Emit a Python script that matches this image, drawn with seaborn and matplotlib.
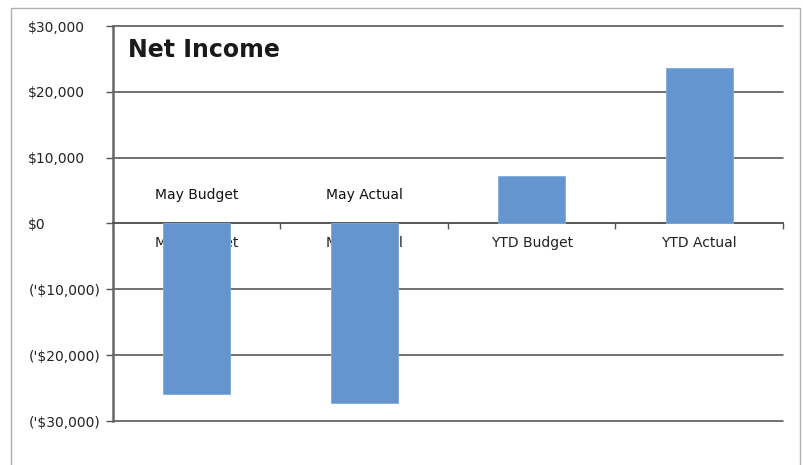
import numpy as np
import pandas as pd
import matplotlib.pyplot as plt
import seaborn as sns

categories = ["May Budget", "May Actual", "YTD Budget", "YTD Actual"]
net_income = [-25900, -27300, 7150, 23600]
annotated = ["May Budget", "May Actual"]
y_ticks = [30000, 20000, 10000, 0, -10000, -20000, -30000]
y_labels = ["$30,000", "$20,000", "$10,000", "$0", "('$10,000)", "('$20,000)", "('$30,000)"]

df = pd.DataFrame({"category": categories, "value": net_income})

sns.set_style("white")
plt.rcParams["font.family"] = ["DejaVu Sans"]

fig = plt.figure(figsize=(8.04, 4.65), dpi=100)
ax = fig.add_axes([113 / 804, 1 - 421 / 465, 670 / 804, 395 / 465])

sns.barplot(data=df, x="category", y="value", color="#6495CF", width=0.4,
            saturation=1, ax=ax, zorder=3, linewidth=0.6, edgecolor="#7FAAE0")

ax.set_ylim(-30000, 30000)
ax.set_xlim(-0.5, 3.5)
ax.set_yticks(y_ticks)
ax.set_yticklabels(y_labels, fontsize=10, color="#222222", ha="left")
ax.tick_params(axis="y", left=True, length=5, width=1, color="#555555", pad=56)
ax.set_xlabel("")
ax.set_ylabel("")

# gridlines drawn behind the bars
for v in y_ticks:
    if v != 0:
        ax.axhline(v, color="#4a4a4a", lw=1.1, zorder=1, clip_on=False)

# category axis sits on zero, labels end up under the bars
ax.spines["bottom"].set_position(("data", 0))
ax.spines["bottom"].set_color("#4a4a4a")
ax.spines["bottom"].set_linewidth(1.3)
ax.spines["left"].set_color("#666666")
ax.spines["left"].set_linewidth(1.8)
ax.spines["top"].set_visible(False)
ax.spines["right"].set_visible(False)
ax.set_xticks([0.5, 1.5, 2.5, 3.5], minor=True)
ax.tick_params(axis="x", which="major", bottom=False, length=0, pad=9, labelsize=10, labelcolor="#222222")
ax.tick_params(axis="x", which="minor", bottom=True, length=4, width=1, color="#555555", direction="out")
ax.xaxis.set_zorder(1.5)

for name in annotated:
    i = categories.index(name)
    ax.text(i, 4300, name, ha="center", va="center", fontsize=10, color="#111111", zorder=4)

ax.text(0.022, 0.97, "Net Income", transform=ax.transAxes, fontsize=17,
        fontweight="bold", color="#1a1a1a", ha="left", va="top")

# outer chart border
fig.patches.append(plt.Rectangle((11 / 804, -0.1), 789 / 804, 1.1 - 8 / 465,
                                 transform=fig.transFigure, fill=False,
                                 edgecolor="#b0b0b0", lw=1))

fig.savefig("out.png", dpi=100)
